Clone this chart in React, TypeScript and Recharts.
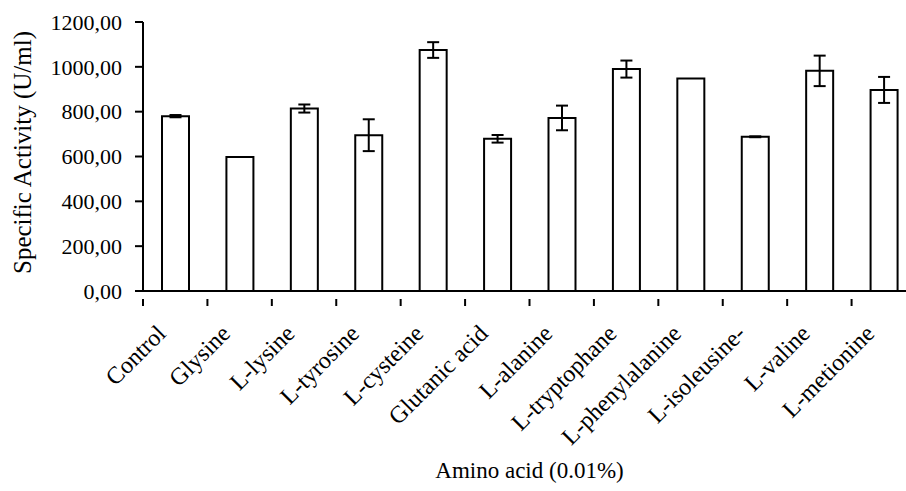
import React from 'react';
import { BarChart, Bar, XAxis, YAxis, ErrorBar } from 'recharts';

const categories = [
  'Control', 'Glysine', 'L-lysine', 'L-tyrosine', 'L-cysteine', 'Glutanic acid',
  'L-alanine', 'L-tryptophane', 'L-phenylalanine', 'L-isoleusine-', 'L-valine', 'L-metionine',
];
const activity = [780, 598, 814, 695, 1075, 679, 772, 990, 948, 688, 982, 897];
const errors = [5, 0, 18, 71, 35, 17, 55, 38, 0, 2, 68, 58];
const yTicks = [0, 200, 400, 600, 800, 1000, 1200];

const data = categories.map((name, i) => ({ name, value: activity[i], err: errors[i] }));

const FONT = '"Liberation Serif", "Times New Roman", serif';
const CHART_W = 916;
const CHART_H = 491;
const Y_AXIS_W = 143;
const BAND = (CHART_W - Y_AXIS_W) / categories.length;

const fmt = (v: number) => v.toFixed(2).replace('.', ',');

const CatTick = (props: any) => {
  const { x, y, payload } = props;
  const ax = x - 8;
  const ay = y + 36;
  return (
    <g>
      <line x1={x - BAND / 2} y1={y} x2={x - BAND / 2} y2={y + 7} stroke="#000" strokeWidth={2} />
      <text
        x={ax}
        y={ay}
        textAnchor="end"
        transform={`rotate(-45, ${ax}, ${ay})`}
        fontFamily={FONT}
        fontSize={24}
        fill="#000"
      >
        {payload.value}
      </text>
    </g>
  );
};

const XTitle = (props: any) => {
  const vb = props.viewBox || {};
  return (
    <text x={vb.x + vb.width / 2} y={vb.y + 187} textAnchor="middle" fontFamily={FONT} fontSize={23} fill="#000">
      Amino acid (0.01%)
    </text>
  );
};

const YTitle = (props: any) => {
  const vb = props.viewBox || {};
  const x = vb.x + 31;
  const y = 274;
  return (
    <text x={x} y={y} textAnchor="start" transform={`rotate(-90, ${x}, ${y})`} fontFamily={FONT} fontSize={25} fill="#000">
      Specific Activity (U/ml)
    </text>
  );
};

export default function App() {
  return (
    <div style={{ position: 'absolute', left: 0, top: 0, width: 906, height: 491, overflow: 'hidden', background: '#fff' }}>
      <BarChart width={CHART_W} height={CHART_H} data={data} margin={{ top: 22, right: 0, left: 0, bottom: 0 }} barCategoryGap={0}>
        <XAxis
          dataKey="name"
          height={200}
          axisLine={{ stroke: '#000', strokeWidth: 2 }}
          tickLine={false}
          tick={<CatTick />}
          interval={0}
          label={<XTitle />}
        />
        <YAxis
          width={Y_AXIS_W}
          domain={[0, 1200]}
          ticks={yTicks}
          tickFormatter={fmt}
          tickSize={8}
          tickMargin={13}
          axisLine={{ stroke: '#000', strokeWidth: 2 }}
          tickLine={{ stroke: '#000', strokeWidth: 2 }}
          tick={{ fill: '#000', fontFamily: FONT, fontSize: 22 }}
          label={<YTitle />}
        />
        <Bar dataKey="value" fill="#fff" stroke="#000" strokeWidth={2} barSize={27} isAnimationActive={false}>
          <ErrorBar dataKey="err" width={6} stroke="#000" strokeWidth={2} direction="y" />
        </Bar>
      </BarChart>
    </div>
  );
}
